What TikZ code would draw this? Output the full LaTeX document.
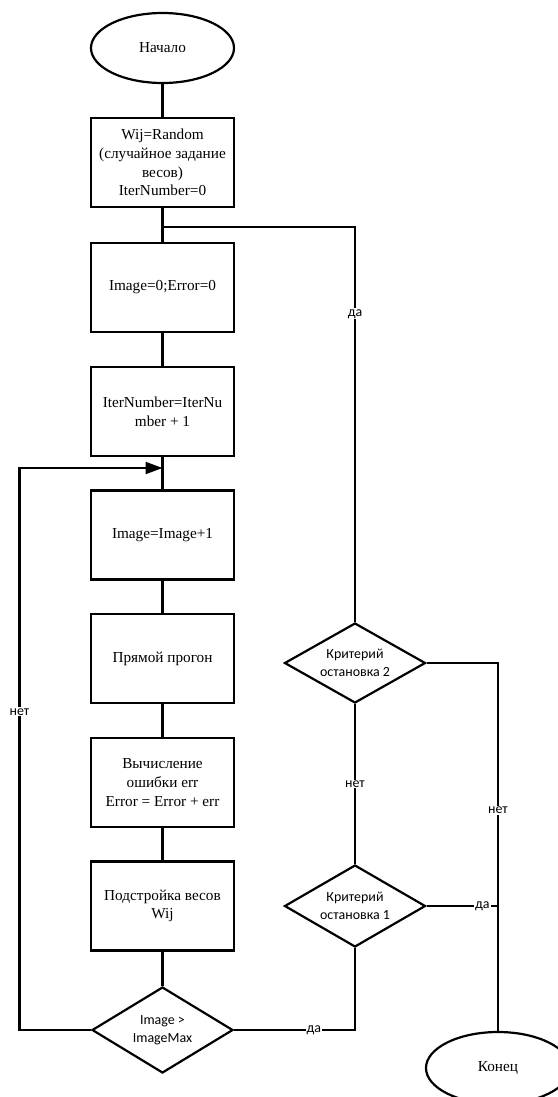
\documentclass[tikz,border=0pt]{standalone}
\usepackage{fontspec}
\setmainfont{Liberation Serif}
\newfontfamily\sansf{Carlito}
\usetikzlibrary{shapes.geometric,arrows.meta}
\begin{document}
\begin{tikzpicture}[x=1bp,y=-1bp,
 line width=2.2bp, line join=miter,
 procbox/.style={draw, minimum width=143bp, minimum height=89bp, inner sep=2bp, align=center, font=\fontsize{15.3}{18.7}\selectfont},
 term/.style={draw, ellipse, minimum width=143bp, minimum height=70bp, inner sep=0pt, font=\fontsize{15.3}{18.7}\selectfont},
 decis/.style={draw, diamond, aspect=1.75, inner sep=0pt, minimum width=141bp, minimum height=80bp, align=center, font=\sansf\fontsize{14}{18}\selectfont},
 lbl/.style={fill=white, inner sep=1bp, font=\sansf\fontsize{14}{16}\selectfont},
 loopArrow/.style={-{Triangle[length=17bp,width=12bp]}}]
\useasboundingbox (0,0) rectangle (558,1097);

\node[term] (start) at (162.5,48) {Начало};
\node[procbox] (b1) at (162.5,162.5) {Wij=Random\\(случайное задание\\весов)\\IterNumber=0};
\node[procbox] (b2) at (162.5,287.5) {Image=0;Error=0};
\node[procbox] (b3) at (162.5,411.5) {IterNumber=IterNu\\mber + 1};
\node[procbox] (b4) at (162.5,535) {Image=Image+1};
\node[procbox] (b5) at (162.5,658.5) {Прямой прогон};
\node[procbox] (b6) at (162.5,782.5) {Вычисление\\ошибки err\\Error = Error + err};
\node[procbox] (b7) at (162.5,906) {Подстройка весов\\Wij};
\node[decis, minimum height=86bp, aspect=1.64] (d0) at (162.5,1030) {Image >\\ImageMax};
\node[decis] (d2) at (355,663) {Критерий\\остановка 2};
\node[decis, minimum height=82bp] (d1) at (355,906) {Критерий\\остановка 1};
\node[term, minimum width=144bp, minimum height=72bp] (end) at (498,1068) {Конец};
\coordinate (j1) at (162.5,227);
\coordinate (j2) at (162.5,468);
\coordinate (lx) at (19.5,0);

\draw (start) -- (b1);
\draw (b1) -- (b2);
\draw (j1) -- (j1 -| d2.north) -- node[lbl,pos=0.22]{да} (d2.north);
\draw (b2) -- (b3);
\draw (b3) -- (b4);
\draw (b4) -- (b5);
\draw (b5) -- (b6);
\draw (b6) -- (b7);
\draw (b7) -- (d0);
\draw[loopArrow] (d0.west) -- (d0.west -| lx) -- node[lbl,pos=0.566]{нет} (j2 -| lx) -- (j2);
\draw (d0.east) -- node[lbl,pos=0.66]{да} (d0.east -| d1.south) -- (d1.south);
\draw (d1.north) -- node[lbl]{нет} (d2.south);
\draw (d2.east) -- (d2.east -| end.north) -- node[lbl,pos=0.40]{нет} (end.north);
\draw (d1.east) -- node[lbl,pos=0.78]{да} (d1.east -| end.north);
\end{tikzpicture}
\end{document}
